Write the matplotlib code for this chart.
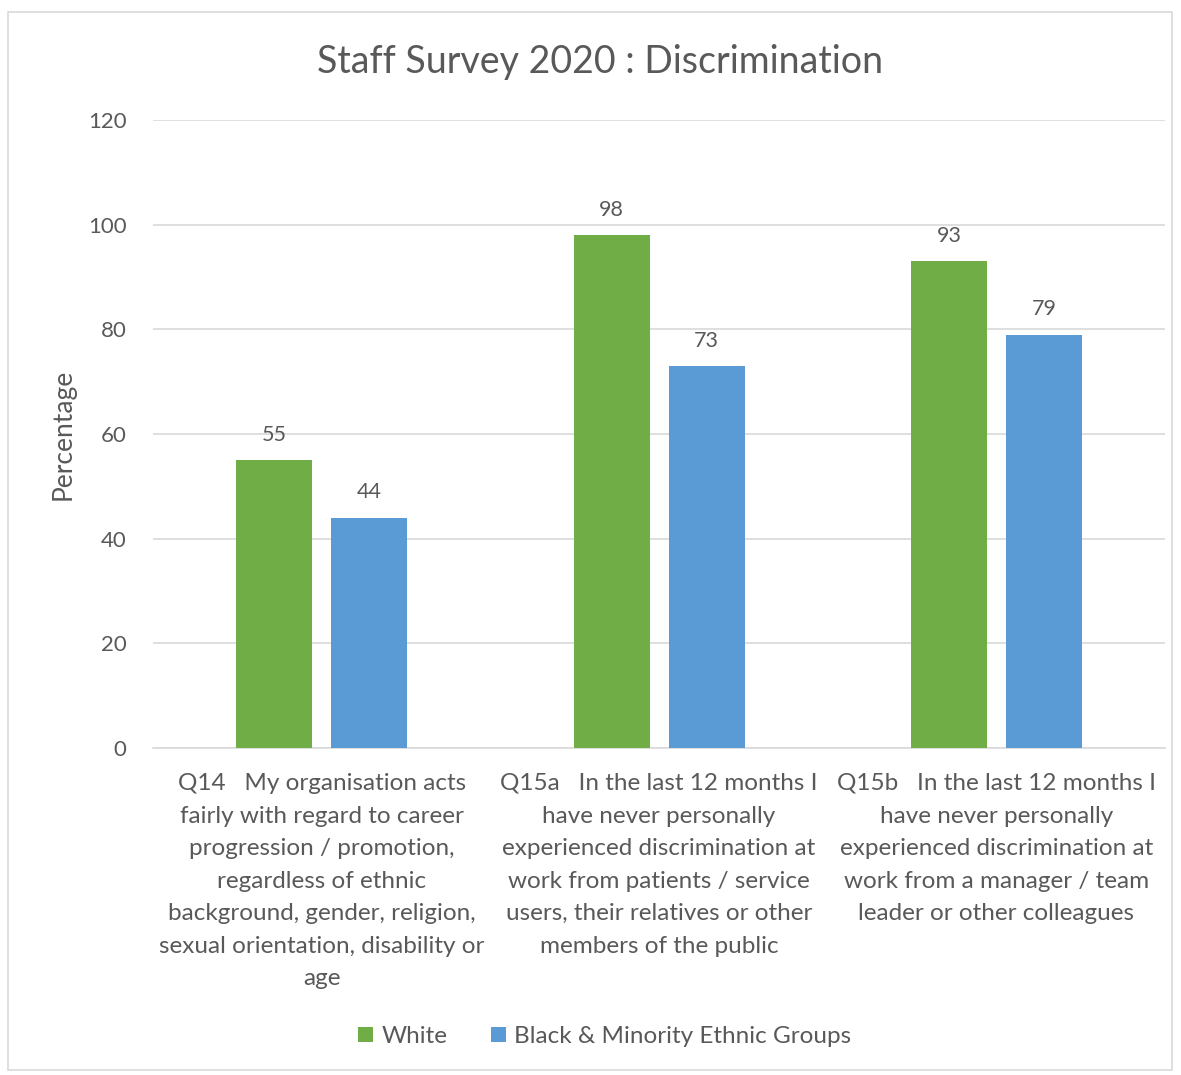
import matplotlib
matplotlib.use("Agg")
import matplotlib.pyplot as plt
import numpy as np
from matplotlib.patches import Rectangle

# -----------------------------
# Data
# -----------------------------
questions = [
    "Q14   My organisation acts\nfairly with regard to career\nprogression / promotion,\nregardless of ethnic\nbackground, gender, religion,\nsexual orientation, disability or\nage",
    "Q15a   In the last 12 months I\nhave never personally\nexperienced discrimination at\nwork from patients / service\nusers, their relatives or other\nmembers of the public",
    "Q15b   In the last 12 months I\nhave never personally\nexperienced discrimination at\nwork from a manager / team\nleader or other colleagues",
]
white = [55, 98, 93]
bme = [44, 73, 79]
series_names = ["White", "Black & Minority Ethnic Groups"]

GREEN = "#70AD47"
BLUE = "#5B9BD5"
TEXT = "#595959"
GRID = "#D9D9D9"

plt.rcParams["font.family"] = ["Lato", "DejaVu Sans"]

# -----------------------------
# Figure
# -----------------------------
fig = plt.figure(figsize=(11.81, 10.75), dpi=100)
ax = fig.add_axes([0.1296, 0.3042, 0.857, 0.5842])

x = np.arange(len(questions))
width = 0.225
offset = 0.141

bars_w = ax.bar(x - offset, white, width, color=GREEN, label=series_names[0], zorder=3)
bars_b = ax.bar(x + offset, bme, width, color=BLUE, label=series_names[1], zorder=3)

for bars in (bars_w, bars_b):
    for b in bars:
        ax.annotate(f"{b.get_height():.0f}", (b.get_x() + b.get_width() / 2, b.get_height()),
                    xytext=(0, 11), textcoords="offset points", ha="center", va="bottom",
                    fontsize=15.5, color=TEXT)

ax.set_xlim(-0.5, len(questions) - 0.5)
ax.set_ylim(0, 120)
ax.set_yticks(range(0, 121, 20))
ax.yaxis.grid(True, color=GRID, linewidth=1.2, zorder=0)
ax.set_axisbelow(True)
for side in ("top", "right", "left"):
    ax.spines[side].set_visible(False)
ax.spines["bottom"].set_color(GRID)
ax.spines["bottom"].set_linewidth(1.2)

ax.set_xticks(x)
ax.set_xticklabels(questions, fontsize=17.5, color=TEXT, linespacing=1.68)
ax.tick_params(axis="x", length=0, pad=18)
ax.tick_params(axis="y", length=0, pad=19, labelsize=16, labelcolor=TEXT)

ax.set_ylabel("Percentage", fontsize=19, color=TEXT, labelpad=9)
fig.suptitle("Staff Survey 2020 : Discrimination", x=0.508, y=0.959, fontsize=27, color=TEXT)

fig.legend(handles=[bars_w, bars_b], loc="center", bbox_to_anchor=(0.512, 0.036), ncol=2,
           frameon=False, fontsize=17.5, labelcolor=TEXT, handlelength=0.6, handleheight=0.6,
           handletextpad=0.35, columnspacing=1.8)

# light outer border
fig.patches.append(Rectangle((0.007, 0.005), 0.985, 0.984, transform=fig.transFigure,
                             fill=False, edgecolor=GRID, linewidth=1.2))

fig.savefig("out.png", dpi=100, facecolor="white")
